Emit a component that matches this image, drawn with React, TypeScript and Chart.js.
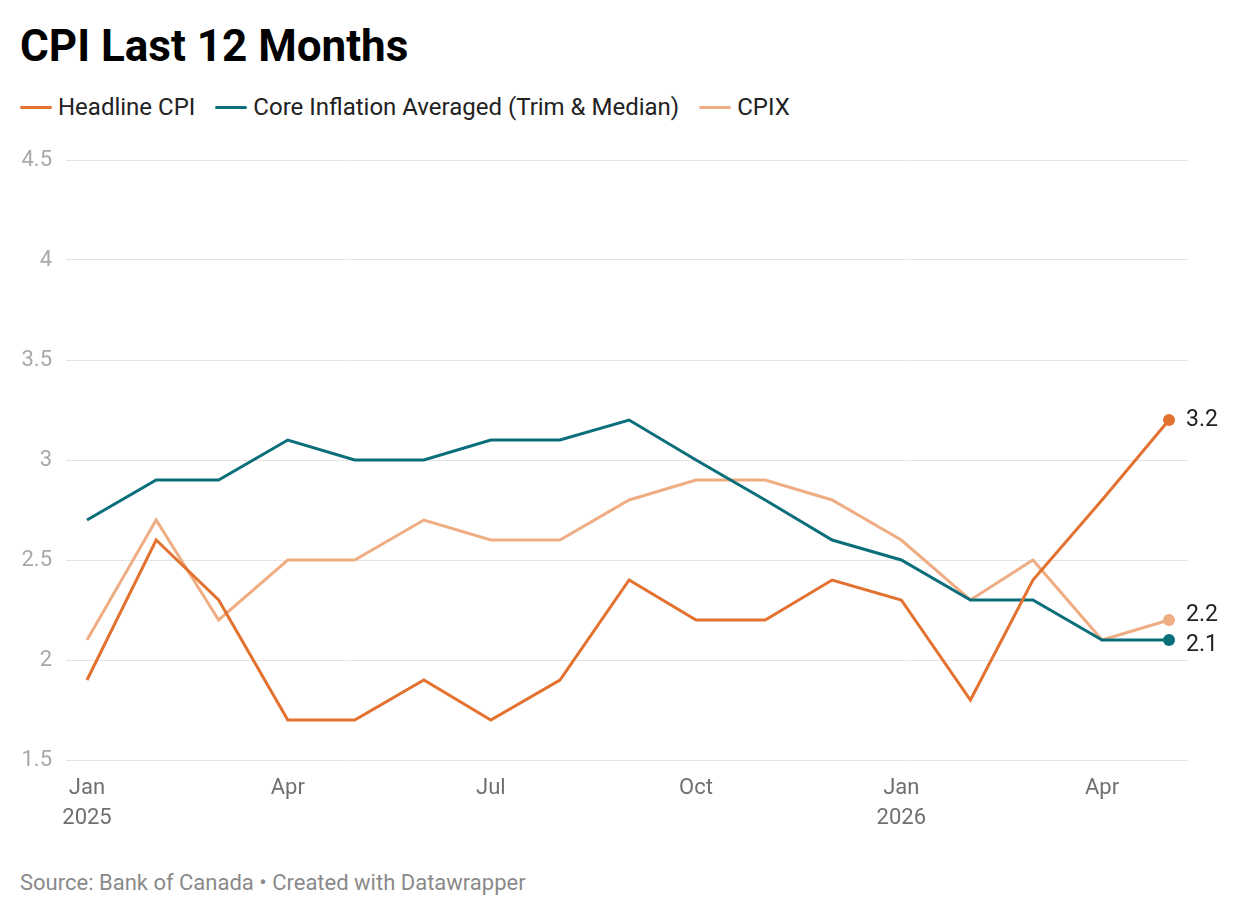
import React, { useEffect, useRef } from "react";
import { Chart, registerables } from "chart.js";
Chart.register(...registerables);

const dates = [
  "2025-01-01", "2025-02-01", "2025-03-01", "2025-04-01", "2025-05-01", "2025-06-01",
  "2025-07-01", "2025-08-01", "2025-09-01", "2025-10-01", "2025-11-01", "2025-12-01",
  "2026-01-01", "2026-02-01", "2026-03-01", "2026-04-01", "2026-05-01",
];
const monthNames = ["Jan", "Feb", "Mar", "Apr", "May", "Jun", "Jul", "Aug", "Sep", "Oct", "Nov", "Dec"];
const xTickDates = ["2025-01-01", "2025-04-01", "2025-07-01", "2025-10-01", "2026-01-01", "2026-04-01"];
const yTickValues = [1.5, 2, 2.5, 3, 3.5, 4, 4.5];

const seriesNames = ["Headline CPI", "Core Inflation Averaged (Trim & Median)", "CPIX"];
const seriesColors = ["#e3712f", "#0b6f7b", "#efad83"];
const headline = [1.9, 2.6, 2.3, 1.7, 1.7, 1.9, 1.7, 1.9, 2.4, 2.2, 2.2, 2.4, 2.3, 1.8, 2.4, 2.8, 3.2];
const core = [2.7, 2.9, 2.9, 3.1, 3.0, 3.0, 3.1, 3.1, 3.2, 3.0, 2.8, 2.6, 2.5, 2.3, 2.3, 2.1, 2.1];
const cpix = [2.1, 2.7, 2.2, 2.5, 2.5, 2.7, 2.6, 2.6, 2.8, 2.9, 2.9, 2.8, 2.6, 2.3, 2.5, 2.1, 2.2];
const seriesValues = [headline, core, cpix];

const FONT = "Roboto, 'Noto Sans', sans-serif";
const DAY = 86400000;
const t0 = Date.parse(dates[0] + "T00:00:00Z");
const toDay = (d: string) => Math.round((Date.parse(d + "T00:00:00Z") - t0) / DAY);
const dayLabel = (day: number) => {
  const dt = new Date(t0 + day * DAY);
  const m = monthNames[dt.getUTCMonth()];
  return dt.getUTCMonth() === 0 ? [m, String(dt.getUTCFullYear())] : m;
};

const endLabelPlugin = {
  id: "endLabels",
  afterDatasetsDraw(chart: any) {
    const ctx = chart.ctx;
    const items: { x: number; y: number; ty: number; text: string }[] = [];
    chart.data.datasets.forEach((ds: any, i: number) => {
      const meta = chart.getDatasetMeta(i);
      const last = meta.data[meta.data.length - 1];
      if (!last) return;
      const v = ds.data[ds.data.length - 1].y;
      items.push({ x: last.x, y: last.y, ty: last.y, text: String(v) });
    });
    items.sort((a, b) => a.y - b.y);
    const gap = 30;
    for (let i = 1; i < items.length; i++) {
      const a = items[i - 1];
      const b = items[i];
      if (b.ty - a.ty < gap) {
        const mid = (a.ty + b.ty) / 2;
        a.ty = mid - gap / 2;
        b.ty = mid + gap / 2;
      }
    }
    ctx.save();
    ctx.font = `23px ${FONT}`;
    ctx.fillStyle = "#222";
    ctx.textAlign = "left";
    ctx.textBaseline = "middle";
    items.forEach((it) => ctx.fillText(it.text, it.x + 17, it.ty));
    ctx.restore();
  },
};

function CpiChart() {
  const ref = useRef<HTMLCanvasElement | null>(null);
  useEffect(() => {
    if (!ref.current) return;
    const lastIdx = dates.length - 1;
    const lastDay = toDay(dates[lastIdx]);
    const pxPerDay = (1169 - 87) / lastDay;
    const chart = new Chart(ref.current, {
      type: "line",
      data: {
        datasets: seriesValues.map((vals, i) => ({
          label: seriesNames[i],
          data: vals.map((v, j) => ({ x: toDay(dates[j]), y: v })),
          borderColor: seriesColors[i],
          backgroundColor: seriesColors[i],
          borderWidth: 3,
          tension: 0,
          pointRadius: (c: any) => (c.dataIndex === lastIdx ? 6 : 0),
          pointHoverRadius: 0,
          pointBorderWidth: 0,
        })),
      },
      options: {
        animation: false,
        responsive: false,
        layout: { padding: { top: 30, right: 52, left: 0, bottom: 0 } },
        plugins: { legend: { display: false }, tooltip: { enabled: false } },
        scales: {
          x: {
            type: "linear",
            min: -(87 - 66) / pxPerDay,
            max: lastDay + (1188 - 1169) / pxPerDay,
            grid: { display: false },
            border: { display: false },
            afterBuildTicks: (s: any) => {
              s.ticks = xTickDates.map((d) => ({ value: toDay(d) }));
            },
            afterFit: (s: any) => {
              s.height = 90;
            },
            ticks: {
              autoSkip: false,
              maxRotation: 0,
              padding: 5,
              color: "#707070",
              font: { family: FONT, size: 22, lineHeight: 30 / 22 },
              callback: (value: any) => dayLabel(Number(value)),
            },
          },
          y: {
            min: 1.5,
            max: 4.5,
            afterBuildTicks: (s: any) => {
              s.ticks = yTickValues.map((v) => ({ value: v }));
            },
            afterFit: (s: any) => {
              s.width = 66;
            },
            grid: { color: "#e4e4e4", lineWidth: 1, drawTicks: false },
            border: { display: false },
            ticks: {
              padding: 14,
              color: "#a8a8a8",
              font: { family: FONT, size: 22 },
              callback: (value: any) => String(value),
            },
          },
        },
      },
      plugins: [endLabelPlugin],
    } as any);
    return () => chart.destroy();
  }, []);
  return <canvas ref={ref} width={1240} height={720} style={{ width: 1240, height: 720, display: "block" }} />;
}

export default function App() {
  return (
    <div style={{ position: "absolute", left: 0, top: 0, width: 1240, height: 916, background: "#fff", fontFamily: FONT }}>
      <div style={{ position: "absolute", left: 20, top: 24, fontSize: 44, lineHeight: "44px", fontWeight: 700, color: "#000", whiteSpace: "nowrap" }}>
        CPI Last 12 Months
      </div>
      <div style={{ position: "absolute", left: 20, top: 95, display: "flex", alignItems: "center", fontSize: 24, lineHeight: "24px", color: "#222", whiteSpace: "nowrap" }}>
        {seriesNames.map((n, i) => (
          <div key={n} style={{ display: "flex", alignItems: "center", marginRight: 20 }}>
            <span style={{ display: "inline-block", width: 32, height: 3, borderRadius: 2, background: seriesColors[i], marginRight: 6 }} />
            <span>{n}</span>
          </div>
        ))}
      </div>
      <div style={{ position: "absolute", left: 0, top: 130 }}>
        <CpiChart />
      </div>
      <div style={{ position: "absolute", left: 20, top: 872, fontSize: 22, lineHeight: "22px", color: "#8a8a8a", whiteSpace: "nowrap" }}>
        Source: Bank of Canada • Created with Datawrapper
      </div>
    </div>
  );
}
